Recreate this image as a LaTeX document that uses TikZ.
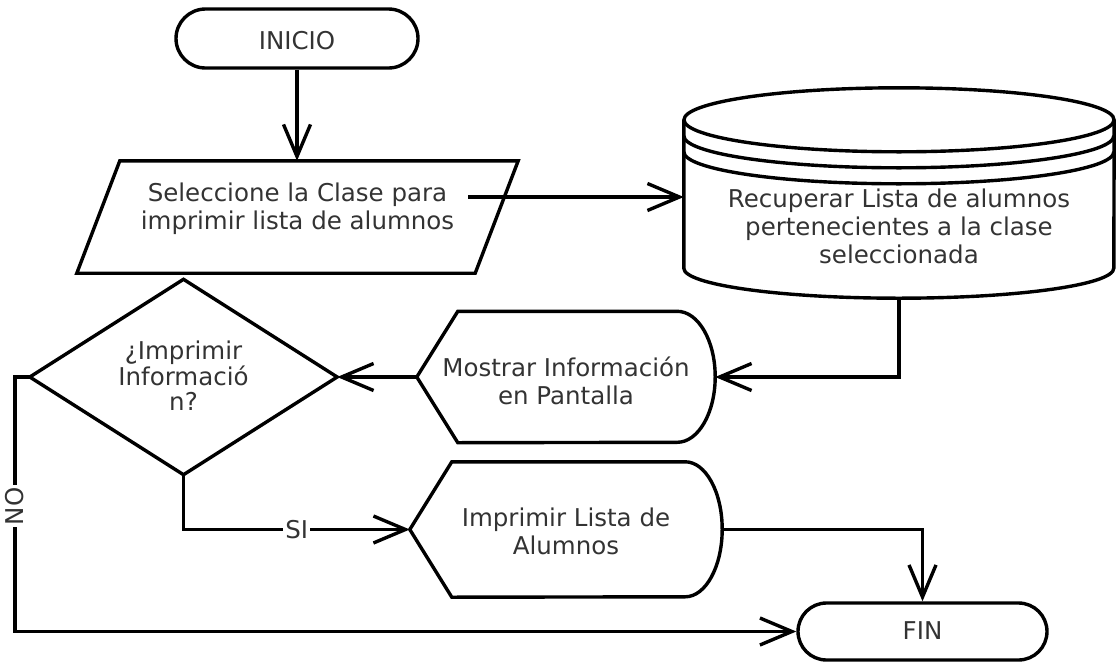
\documentclass[tikz,border=0pt]{standalone}
\usepackage{fontspec}
\setmainfont{DejaVu Sans}
\usetikzlibrary{arrows.meta,calc,shapes.misc}
\definecolor{txt}{HTML}{333333}
% centred text block, shifted vertically without changing the node size
\newcommand{\flowtext}[3]{\raisebox{#1}[0pt][0pt]{\parbox[c]{#2}{\centering #3}}}

\begin{document}
\begin{tikzpicture}[x=1pt,y=1pt,
  outline/.style={line width=3.4pt, line join=miter},
  flow/.style={line width=3.4pt, -{Straight Barb[length=32pt,width=27pt]}},
  block/.style={inner sep=0pt, font=\fontsize{24.5}{28}\selectfont, text=txt},
  terminal/.style={block, rounded rectangle, draw, line width=3.4pt},
  lab/.style={fill=white, inner sep=2pt, font=\fontsize{24.5}{28}\selectfont, text=txt},
]
\useasboundingbox (0,0) rectangle (1117,-662);

% start
\node[terminal, minimum width=242pt, minimum height=59pt] (ini) at (297,-38.5)
  {\flowtext{-8pt}{200pt}{INICIO}};

% input (parallelogram)
\node[block, minimum width=441pt, minimum height=112pt] (sel) at (297.5,-217)
  {\flowtext{2.5pt}{420pt}{Seleccione la Clase para\\imprimir lista de alumnos}};
\draw[outline] ($(sel.north west)+(43,0)$) -- (sel.north east)
  -- ($(sel.south east)+(-43,0)$) -- (sel.south west) -- cycle;

% stored data (cylinder)
\node[block, minimum width=430pt, minimum height=210pt] (db) at (899,-193)
  {\flowtext{-39.5pt}{420pt}{Recuperar Lista de alumnos\\pertenecientes a la clase\\seleccionada}};
\draw[outline] ($(db.north)+(0,-32)$) ellipse [x radius=215, y radius=32];
\draw[outline] ($(db.north west)+(0,-32)$) -- ($(db.south west)+(0,30)$)
  arc[start angle=180, end angle=360, x radius=215, y radius=30]
  -- ($(db.north east)+(0,-32)$);
\draw[outline] ($(db.north west)+(0,-48)$) arc[start angle=180, end angle=360, x radius=215, y radius=32];
\draw[outline] ($(db.north west)+(0,-64)$) arc[start angle=180, end angle=360, x radius=215, y radius=32];

% display on screen
\node[block, minimum width=298pt, minimum height=131pt] (show) at (566,-377)
  {\flowtext{-10pt}{290pt}{Mostrar Información\\en Pantalla}};
\draw[outline] (show.west) -- ($(show.north west)+(41,0)$) -- ($(show.north east)+(-38,0)$)
  arc[start angle=90, end angle=-90, x radius=38, y radius=65.5]
  -- ($(show.south west)+(41,0)$) -- cycle;

% decision
\node[block, minimum width=307pt, minimum height=195pt] (ask) at (183.5,-377)
  {\flowtext{-5pt}{200pt}{\fontsize{24.5}{25.5}\selectfont ¿Imprimir\\Informació\\n?}};
\draw[outline] (ask.north) -- (ask.east) -- (ask.south) -- (ask.west) -- cycle;

% print list
\node[block, minimum width=312pt, minimum height=135pt] (print) at (566,-529.5)
  {\flowtext{-8.5pt}{300pt}{Imprimir Lista de\\Alumnos}};
\draw[outline] (print.west) -- ($(print.north west)+(42,0)$) -- ($(print.north east)+(-37,0)$)
  arc[start angle=90, end angle=-90, x radius=37, y radius=67.5]
  -- ($(print.south west)+(42,0)$) -- cycle;

% end
\node[terminal, minimum width=249pt, minimum height=57pt] (fin) at (922.5,-631.5)
  {\flowtext{-5pt}{200pt}{FIN}};

% connectors
\coordinate (selout) at ($(sel.east)+(-50,20)$);
\draw[flow] (ini.south) -- (ini.south |- sel.north);
\draw[flow] (selout) -- (selout -| db.west);
\draw[flow] (db.south) |- (show.east);
\draw[flow] (show.west) -- (ask.east);
\draw[flow] (ask.south) |- node[lab, pos=0.75] {SI} (print.west);
\draw[flow] (ask.west) -- ++(-15,0) |- node[lab, pos=0.254, rotate=90] {NO} (fin.west);
\draw[flow] (print.east) -| (fin.north);
\end{tikzpicture}
\end{document}
